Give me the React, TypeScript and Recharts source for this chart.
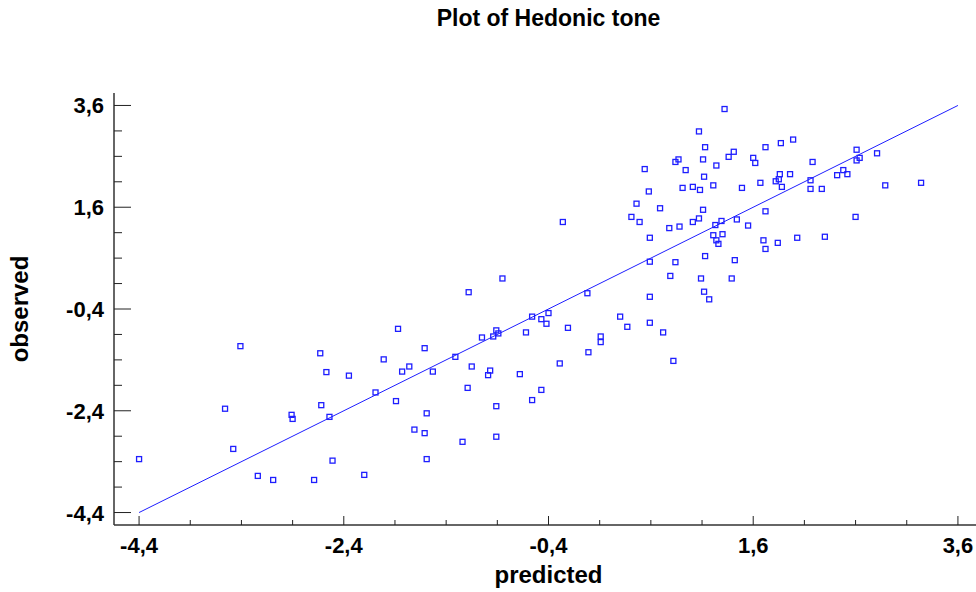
import React from 'react';
import { ScatterChart, Scatter, XAxis, YAxis, ReferenceLine } from 'recharts';

// values
const predicted = [
  -4.4, -3.41, -3.56, -3.48, -3.24, -3.09, -2.91, -2.9, -2.63, -2.57,
  -2.62, -2.54, -2.51, -2.69, -2.35, -2.2, -2.01, -2.09, -1.89, -1.87,
  -1.61, -1.76, -1.83, -1.53, -1.59, -1.71, -1.61, -1.59, -1.24, -0.91,
  -0.91, -1.19, -1.15, -0.97, -0.99, -1.31, -1.18, -0.85, -1.05, -0.94,
  -0.91, -0.89, -0.62, -0.56, -0.47, -0.4, -0.42, -0.68, -0.47, -0.56,
  -0.21, -0.29, -0.02, -0.01, 0.11, 0.11, 0.3, 0.37, 0.59, 0.59,
  -0.26, 0.72, 0.82,
  1.32, 1.07, 1.13, 0.87, 0.84, 1.11, 1.36, 1.41, 1.24, 0.94,
  0.54, 1.12, 1.6, 1.62, 1.72, 1.87, 1.99, 1.86, 1.85, 1.82,
  1.88, 1.96, 1.67, 1.49, 1.21, 1.08, 1.01, 0.91, 0.58, 0.46,
  0.41, 0.49, 0.69, 1.11, 1.07, 1.01, 0.88, 0.78, 0.59, 1.23,
  1.29, 1.44, 1.55, 1.3, 1.21, 1.24, 1.26, 1.72, 1.7, 1.72,
  1.84, 2.03, 0.59, 0.84, 0.79, 1.13, 1.42, 1.09, 1.39, 1.12, 1.17,
  2.18, 2.16, 2.16, 2.27, 2.42, 2.48, 2.52, 2.61, 2.64, 2.61,
  2.81, 2.89, 3.24, 2.6, 2.3,
];

const observed = [
  -3.35, -1.13, -2.36, -3.15, -3.68, -3.76, -2.48, -2.56, -1.27, -1.64,
  -2.29, -2.52, -3.38, -3.76, -1.71, -3.66, -1.39, -2.04, -2.21, -0.79,
  -1.17, -1.53, -1.63, -1.63, -2.45, -2.77, -2.84, -3.35, -3.01, -2.91,
  -2.31, -1.95, -1.53, -1.61, -1.7, -1.34, -0.07, 0.2, -0.96, -0.94,
  -0.82, -0.88, -0.86, -0.55, -0.6, -0.48, -0.69, -1.68, -1.99, -2.19,
  -0.77, -1.47, -0.09, -1.25, -0.94, -1.05, -0.55, -0.75, -0.16, -0.67,
  1.31, -0.86, -1.42,
  3.53, 3.09, 2.78, 2.54, 2.49, 2.54, 2.59, 2.69, 2.42, 2.33,
  2.35, 2.2, 2.57, 2.47, 2.78, 2.86, 2.93, 2.25, 2.15, 2.11,
  2.0, 2.25, 2.08, 1.98, 2.03, 1.94, 2.0, 1.98, 1.91, 1.67,
  1.41, 1.31, 1.58, 1.55, 1.38, 1.31, 1.22, 1.19, 1.0, 1.25,
  1.33, 1.36, 1.24, 1.07, 1.05, 0.95, 0.88, 1.52, 0.95, 0.78,
  0.9, 1.0, 0.53, 0.52, 0.25, 0.64, 0.56, 0.2, 0.2, -0.06, -0.21,
  2.49, 2.13, 1.96, 1.96, 2.23, 2.33, 2.25, 2.73, 2.57, 2.52,
  2.66, 2.03, 2.08, 1.41, 1.02,
];

const majorTicks = [-4.4, -2.4, -0.4, 1.6, 3.6];
const tickLabels = ['-4,4', '-2,4', '-0,4', '1,6', '3,6'];
const allTicks = [
  -4.4, -3.9, -3.4, -2.9, -2.4, -1.9, -1.4, -0.9, -0.4,
  0.1, 0.6, 1.1, 1.6, 2.1, 2.6, 3.1, 3.6,
];
const fitLine = [
  { x: -4.4, y: -4.4 },
  { x: 3.6, y: 3.6 },
];

const points = predicted.map((p, i) => ({ predicted: p, observed: observed[i] }));

const DOMAIN: [number, number] = [-4.645, 3.845];
const FONT = "'Liberation Sans', Arial, sans-serif";
const BLUE = '#1e1eff';
const TICK = '#222';

const labelFor = (v: number) => {
  const i = majorTicks.findIndex((m) => Math.abs(m - v) < 1e-6);
  return i >= 0 ? tickLabels[i] : null;
};

const textStyle = { fontFamily: FONT, fontWeight: 700, fill: '#000' };

const BottomTick = (props: any) => {
  const { x, y, payload } = props;
  const label = labelFor(payload.value);
  return (
    <g>
      <line x1={x} y1={y} x2={x} y2={y - (label ? 9 : 5)} stroke={TICK} />
      {label && (
        <text x={x} y={y + 28} textAnchor="middle" fontSize={22} style={textStyle}>
          {label}
        </text>
      )}
    </g>
  );
};

const TopTick = (props: any) => {
  const { x, y, payload } = props;
  const major = labelFor(payload.value) !== null;
  return <line x1={x} y1={y} x2={x} y2={y + (major ? 9 : 4)} stroke={TICK} />;
};

const LeftTick = (props: any) => {
  const { x, y, payload } = props;
  const label = labelFor(payload.value);
  return (
    <g>
      <line x1={x} y1={y} x2={x + (label ? 17 : 8)} y2={y} stroke={TICK} />
      {label && (
        <text x={x - 10} y={y + 8} textAnchor="end" fontSize={22} style={textStyle}>
          {label}
        </text>
      )}
    </g>
  );
};

const RightTick = (props: any) => {
  const { x, y, payload } = props;
  const major = labelFor(payload.value) !== null;
  return <line x1={x} y1={y} x2={x - (major ? 17 : 8)} y2={y} stroke={TICK} />;
};

const Square = (props: any) => {
  const { cx, cy } = props;
  if (cx == null || cy == null) return null;
  return (
    <rect x={cx - 2.5} y={cy - 2.5} width={5} height={5} fill="none" stroke={BLUE} strokeWidth={1.3} />
  );
};

const frame = { stroke: '#333', strokeWidth: 1.5 };

export default function App() {
  return (
    <div
      style={{
        position: 'absolute',
        left: 0,
        top: 0,
        width: 976,
        height: 592,
        overflow: 'hidden',
        background: '#fff',
      }}
    >
      <div
        style={{
          position: 'absolute',
          left: 348.5,
          top: 6.5,
          width: 400,
          textAlign: 'center',
          fontFamily: FONT,
          fontWeight: 700,
          fontSize: 23,
          lineHeight: '23px',
          color: '#000',
        }}
      >
        Plot of Hedonic tone
      </div>
      <ScatterChart width={1000} height={592} margin={{ top: 93, right: 17, bottom: 0, left: 0 }}>
        <XAxis
          type="number"
          dataKey="predicted"
          domain={DOMAIN}
          allowDataOverflow
          ticks={allTicks}
          interval={0}
          height={67}
          tickSize={0}
          tickMargin={0}
          tickLine={false}
          axisLine={frame}
          tick={<BottomTick />}
          label={{
            content: (p: any) => (
              <text
                x={p.viewBox.x + p.viewBox.width / 2}
                y={583}
                textAnchor="middle"
                fontSize={24}
                style={textStyle}
              >
                predicted
              </text>
            ),
          }}
        />
        <XAxis
          xAxisId="top"
          orientation="top"
          type="number"
          domain={DOMAIN}
          allowDataOverflow
          ticks={allTicks}
          interval={0}
          height={0}
          tickSize={0}
          tickMargin={0}
          tickLine={false}
          axisLine={frame}
          tick={<TopTick />}
        />
        <YAxis
          type="number"
          dataKey="observed"
          domain={DOMAIN}
          allowDataOverflow
          ticks={allTicks}
          interval={0}
          width={114}
          tickSize={0}
          tickMargin={0}
          tickLine={false}
          axisLine={frame}
          tick={<LeftTick />}
          label={{
            content: (p: any) => (
              <text
                transform={`translate(28, ${p.viewBox.y + p.viewBox.height / 2}) rotate(-90)`}
                textAnchor="middle"
                fontSize={24}
                style={textStyle}
              >
                observed
              </text>
            ),
          }}
        />
        <YAxis
          yAxisId="right"
          orientation="right"
          type="number"
          domain={DOMAIN}
          allowDataOverflow
          ticks={allTicks}
          interval={0}
          width={0}
          tickSize={0}
          tickMargin={0}
          tickLine={false}
          axisLine={frame}
          tick={<RightTick />}
        />
        <ReferenceLine segment={fitLine} stroke={BLUE} strokeWidth={1} />
        <Scatter data={points} shape={<Square />} isAnimationActive={false} />
      </ScatterChart>
    </div>
  );
}
